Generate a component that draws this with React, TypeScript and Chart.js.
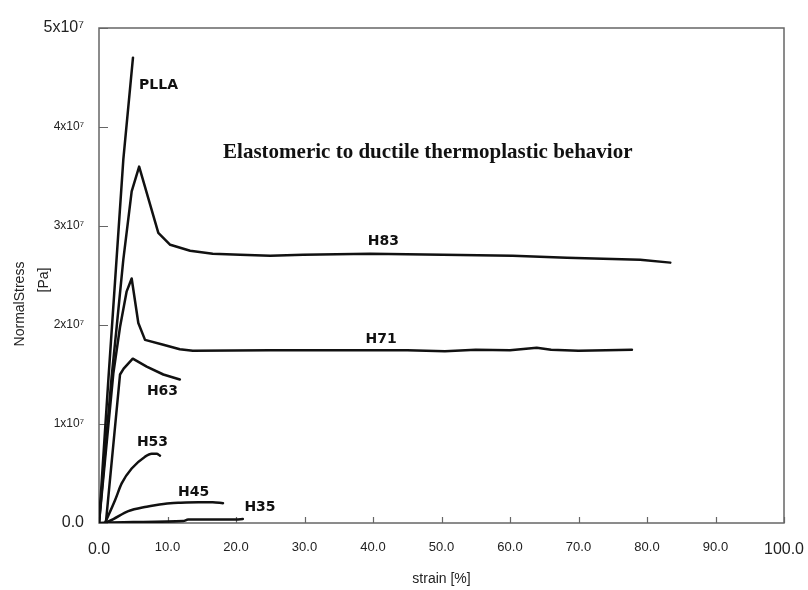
import { useEffect, useRef } from "react";
import { Chart, registerables } from "chart.js";

Chart.register(...registerables);

// ---- data (strain in %, stress in Pa) ----
const X_TICK_LABELS = ["0.0", "10.0", "20.0", "30.0", "40.0", "50.0", "60.0", "70.0", "80.0", "90.0", "100.0"];
const Y_TICK_LABELS = ["0.0", "1x10⁷", "2x10⁷", "3x10⁷", "4x10⁷", "5x10⁷"];

const PLLA_X = [0, 1.36, 3.55, 4.96];
const PLLA_Y = [0, 1.44e7, 3.67e7, 4.70e7];

const H83_X = [0, 1.85, 2.58, 3.55, 4.77, 5.86, 8.66, 10.4, 13.3, 16.6, 20.6, 25.0, 29.8, 39.6, 50.2, 60.4, 68.3, 73.6, 79.0, 83.4];
const H83_Y = [0, 1.48e7, 1.98e7, 2.66e7, 3.35e7, 3.60e7, 2.93e7, 2.81e7, 2.75e7, 2.72e7, 2.71e7, 2.70e7, 2.71e7, 2.72e7, 2.71e7, 2.70e7, 2.68e7, 2.67e7, 2.66e7, 2.63e7];

const H71_X = [0, 2.09, 3.07, 4.04, 4.77, 5.74, 6.72, 9.39, 11.8, 13.7, 25, 35, 45, 50.5, 55, 60, 63.9, 66, 70, 74, 77.8];
const H71_Y = [0, 1.51e7, 1.98e7, 2.34e7, 2.47e7, 2.02e7, 1.85e7, 1.80e7, 1.755e7, 1.74e7, 1.745e7, 1.745e7, 1.745e7, 1.735e7, 1.75e7, 1.745e7, 1.77e7, 1.75e7, 1.74e7, 1.745e7, 1.75e7];

const H63_X = [1.0, 3.07, 3.6, 4.93, 6.96, 9.39, 11.8];
const H63_Y = [0, 1.50e7, 1.56e7, 1.66e7, 1.58e7, 1.50e7, 1.45e7];

const H53_X = [0.88, 2.34, 3.31, 4.77, 6.72, 7.69, 8.42, 8.9];
const H53_Y = [0, 0.23e7, 0.40e7, 0.55e7, 0.67e7, 0.70e7, 0.70e7, 0.68e7];

const H45_X = [0.9, 2.1, 4.28, 6.96, 8.18, 10.4, 11.8, 14.5, 16.6, 18.1];
const H45_Y = [0, 0.04e7, 0.12e7, 0.165e7, 0.18e7, 0.20e7, 0.205e7, 0.21e7, 0.209e7, 0.20e7];

const H35_X = [0, 5, 12.3, 13, 20, 21];
const H35_Y = [0, 0.01e7, 0.02e7, 0.035e7, 0.035e7, 0.04e7];

const SERIES_NAMES = ["PLLA", "H83", "H71", "H63", "H53", "H45", "H35"];
const SERIES_X = [PLLA_X, H83_X, H71_X, H63_X, H53_X, H45_X, H35_X];
const SERIES_Y = [PLLA_Y, H83_Y, H71_Y, H63_Y, H53_Y, H45_Y, H35_Y];
const SERIES_SMOOTH = [false, false, false, false, true, true, true];

// curve label anchors (data coordinates: strain %, stress Pa)
const LABEL_X = [8.69, 41.5, 41.2, 9.27, 7.81, 13.8, 23.5];
const LABEL_Y = [4.42e7, 2.84e7, 1.85e7, 1.33e7, 0.81e7, 0.31e7, 0.157e7];

const HEADING = "Elastomeric to ductile thermoplastic behavior";
const HEADING_X = 48.0;
const HEADING_Y = 3.74e7;

const SANS = "'Liberation Sans', Arial, sans-serif";

const decorPlugin = {
  id: "decor",
  beforeDatasetsDraw(chart: any) {
    const { ctx, chartArea: a, scales } = chart;
    const xs = scales.x;
    const ys = scales.y;
    ctx.save();
    ctx.strokeStyle = "#666";
    ctx.lineWidth = 1.5;
    ctx.strokeRect(a.left, a.top, a.right - a.left, a.bottom - a.top);
    ctx.beginPath();
    ys.ticks.forEach((t: any) => {
      const py = Math.round(ys.getPixelForValue(t.value)) + 0.5;
      ctx.moveTo(a.left, py);
      ctx.lineTo(a.left + 9, py);
    });
    xs.ticks.forEach((t: any) => {
      const px = Math.round(xs.getPixelForValue(t.value)) + 0.5;
      ctx.moveTo(px, a.bottom);
      ctx.lineTo(px, a.bottom - 6);
    });
    ctx.lineWidth = 1.2;
    ctx.stroke();
    ctx.restore();
  },
  afterDatasetsDraw(chart: any) {
    const { ctx, scales } = chart;
    const xs = scales.x;
    const ys = scales.y;
    ctx.save();
    ctx.fillStyle = "#111";
    ctx.textAlign = "center";
    ctx.textBaseline = "middle";
    ctx.font = "bold 14px 'DejaVu Sans', Verdana, sans-serif";
    SERIES_NAMES.forEach((name, i) => {
      ctx.fillText(name, xs.getPixelForValue(LABEL_X[i]), ys.getPixelForValue(LABEL_Y[i]));
    });
    ctx.font = "bold 21px 'Liberation Serif', 'Times New Roman', serif";
    ctx.fillText(HEADING, xs.getPixelForValue(HEADING_X), ys.getPixelForValue(HEADING_Y));
    ctx.restore();
  },
  afterDraw(chart: any) {
    const { ctx } = chart;
    const drawRotated = (text: string, cx: number, cy: number) => {
      ctx.save();
      ctx.fillStyle = "#222";
      ctx.textAlign = "center";
      ctx.textBaseline = "middle";
      ctx.font = `14px ${SANS}`;
      ctx.translate(cx, cy);
      ctx.rotate(-Math.PI / 2);
      ctx.fillText(text, 0, 0);
      ctx.restore();
    };
    drawRotated("NormalStress", 20, 304);
    drawRotated("[Pa]", 44, 280);
  },
};

export default function App() {
  const ref = useRef<HTMLCanvasElement | null>(null);

  useEffect(() => {
    const canvas = ref.current;
    if (!canvas) return;
    const datasets = SERIES_NAMES.map((name, i) => ({
      label: name,
      data: SERIES_X[i].map((x, j) => ({ x, y: SERIES_Y[i][j] })),
      borderColor: "#111",
      backgroundColor: "#111",
      borderWidth: 2.5,
      pointRadius: 0,
      fill: false,
      tension: 0,
      cubicInterpolationMode: SERIES_SMOOTH[i] ? "monotone" : "default",
      borderJoinStyle: "round",
      borderCapStyle: "round",
    }));

    const chart = new Chart(canvas, {
      type: "line",
      data: { datasets } as any,
      plugins: [decorPlugin],
      options: {
        animation: false,
        responsive: false,
        parsing: false as any,
        layout: { padding: { left: 0, top: 28, right: 24, bottom: 0 } },
        plugins: {
          legend: { display: false },
          tooltip: { enabled: false },
          title: { display: false },
        },
        scales: {
          x: {
            type: "linear",
            min: 0,
            max: 100,
            afterFit: (s: any) => {
              s.height = 67;
              s.paddingLeft = 0;
              s.paddingRight = 0;
            },
            border: { display: false },
            grid: { display: false, drawTicks: false },
            ticks: {
              stepSize: 10,
              autoSkip: false,
              maxRotation: 0,
              padding: 17,
              color: "#222",
              callback: (_v: any, i: number) => X_TICK_LABELS[i],
              font: (c: any) => {
                const v = c.tick ? c.tick.value : 10;
                return { family: SANS, size: v === 0 || v === 100 ? 16 : 13 };
              },
            },
            title: {
              display: true,
              text: "strain [%]",
              color: "#222",
              font: { family: SANS, size: 14 },
              padding: { top: 0, bottom: 2 },
            },
          },
          y: {
            type: "linear",
            min: 0,
            max: 5e7,
            afterFit: (s: any) => {
              s.width = 99;
              s.paddingTop = 0;
              s.paddingBottom = 0;
            },
            border: { display: false },
            grid: { display: false, drawTicks: false },
            ticks: {
              stepSize: 1e7,
              autoSkip: false,
              padding: 15,
              color: "#222",
              callback: (_v: any, i: number) => Y_TICK_LABELS[i],
              font: (c: any) => {
                const v = c.tick ? c.tick.value : 1e7;
                return { family: SANS, size: v === 0 || v === 5e7 ? 16 : 12 };
              },
            },
          },
        },
      } as any,
    });
    return () => chart.destroy();
  }, []);

  return (
    <div style={{ position: "fixed", left: 0, top: 0, width: 808, height: 590, background: "#fff" }}>
      <canvas ref={ref} width={808} height={590} style={{ display: "block", width: 808, height: 590 }} />
    </div>
  );
}
